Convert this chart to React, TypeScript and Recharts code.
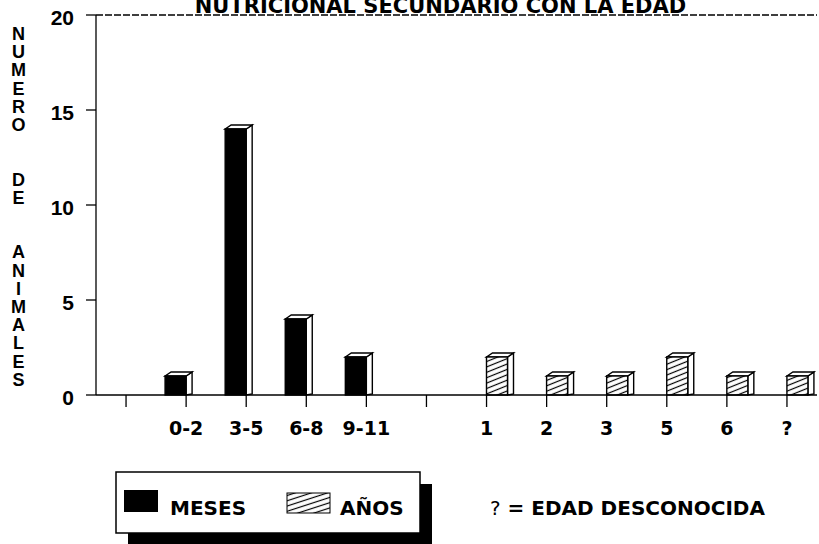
import React from 'react';
import { BarChart, Bar, XAxis, YAxis, ReferenceLine, Legend } from 'recharts';

const categories = ['', '0-2', '3-5', '6-8', '9-11', ' ', '1', '2', '3', '5', '6', '?'];
const meses: (number | null)[] = [null, 1, 14, 4, 2, null, null, null, null, null, null, null];
const anos: (number | null)[] = [null, null, null, null, null, null, 2, 1, 1, 2, 1, 1];
const yTicks = [0, 5, 10, 15, 20];
const title = 'NUTRICIONAL SECUNDARIO CON LA EDAD';
const yLabel = 'NUMERO  DE  ANIMALES';
const seriesNames = { meses: 'MESES', anos: 'AÑOS' };
const footnoteMark = '?';
const footnoteText = ' = EDAD DESCONOCIDA';

const data = categories.map((c, i) => ({ cat: c, meses: meses[i], anos: anos[i] }));

const FONT = '"DejaVu Sans", Arial, sans-serif';
const ARIAL = '"Liberation Sans", Arial, Helvetica, sans-serif';

const HatchDefs = ({ id, angle }: { id: string; angle: number }) => (
  <defs>
    <pattern id={id} patternUnits="userSpaceOnUse" width="8" height="5" patternTransform={`rotate(${angle})`}>
      <rect width="8" height="5" fill="#fff" />
      <line x1="0" y1="2.5" x2="8" y2="2.5" stroke="#000" strokeWidth="1.2" />
    </pattern>
  </defs>
);

const Bar3D = (props: any) => {
  const { x, y, width, height, hatched } = props;
  if (height == null || height <= 0) return null;
  const dx = 6;
  const dy = 4;
  const base = y + height;
  return (
    <g>
      {hatched ? <HatchDefs id="hatchBar" angle={-22} /> : null}
      <polygon
        points={`${x + width},${y} ${x + width + dx},${y - dy} ${x + width + dx},${base - 1} ${x + width},${base}`}
        fill="#fff"
        stroke="#000"
        strokeWidth={1.4}
      />
      <polygon
        points={`${x},${y} ${x + dx},${y - dy} ${x + width + dx},${y - dy} ${x + width},${y}`}
        fill="#fff"
        stroke="#000"
        strokeWidth={1.4}
      />
      <rect
        x={x}
        y={y}
        width={width}
        height={height}
        fill={hatched ? 'url(#hatchBar)' : '#000'}
        stroke="#000"
        strokeWidth={1.4}
      />
    </g>
  );
};

const XTick = (props: any) => {
  const { x, y, payload } = props;
  return (
    <text x={x} y={y} dy={18} textAnchor="middle" fontFamily={FONT} fontWeight="bold" fontSize={19} fill="#000">
      {payload.value}
    </text>
  );
};

const YTick = (props: any) => {
  const { x, y, payload } = props;
  return (
    <text x={x} y={y} dy={10} textAnchor="end" fontFamily={ARIAL} fontWeight="bold" fontSize={21} fill="#000">
      {payload.value}
    </text>
  );
};

const YLabel = (props: any) => {
  const vb = props.viewBox || { x: 0 };
  const cx = (vb.x || 0) + 18.5;
  const top = 27;
  const pitch = 18.2;
  const chars = yLabel.split('');
  return (
    <text textAnchor="middle" fontFamily={ARIAL} fontWeight="bold" fontSize={18} fill="#000">
      {chars.map((ch, i) =>
        ch === ' ' ? null : (
          <tspan key={i} x={cx} y={top + i * pitch + 13}>
            {ch}
          </tspan>
        )
      )}
    </text>
  );
};

const TitleLabel = (props: any) => {
  const vb = props.viewBox || { x: 0, width: 0 };
  return (
    <text
      x={vb.x + vb.width / 2 - 16}
      y={13}
      textAnchor="middle"
      fontFamily={FONT}
      fontWeight="bold"
      fontSize={21}
      fill="#000"
    >
      {title}
    </text>
  );
};

const LegendContent = (props: any) => {
  const payload = props.payload || [];
  const m = payload.find((p: any) => p.dataKey === 'meses');
  const a = payload.find((p: any) => p.dataKey === 'anos');
  return (
    <svg width={819} height={84} style={{ display: 'block' }}>
      <HatchDefs id="hatchLegend" angle={-18} />
      <rect x={128} y={24} width={304} height={61} fill="#000" />
      <rect x={116} y={12} width={304} height={61} fill="#fff" stroke="#000" strokeWidth={1.5} />
      <rect x={124} y={30} width={34} height={22} fill="#000" />
      <text x={170} y={55} fontFamily={FONT} fontWeight="bold" fontSize={20} fill="#000">
        {m ? m.value : ''}
      </text>
      <rect x={287} y={33} width={43} height={20} fill="url(#hatchLegend)" stroke="#000" strokeWidth={1} />
      <text x={340} y={55} fontFamily={FONT} fontWeight="bold" fontSize={20} fill="#000">
        {a ? a.value : ''}
      </text>
      <text x={490} y={55} fontFamily={FONT} fontWeight="bold" fontSize={20} fill="#000">
        <tspan fontWeight="normal">{footnoteMark}</tspan>
        {footnoteText}
      </text>
    </svg>
  );
};

export default function App() {
  return (
    <div style={{ position: 'absolute', left: 0, top: 0, width: 819, height: 544, background: '#fff', fontFamily: FONT }}>
      <BarChart
        width={819}
        height={544}
        data={data}
        margin={{ top: 15, right: 2, left: 0, bottom: 0 }}
        barGap={0}
        barSize={21}
      >
        <XAxis
          dataKey="cat"
          height={149}
          interval={0}
          tickSize={12}
          tickMargin={10}
          axisLine={{ stroke: '#000', strokeWidth: 1.3 }}
          tickLine={{ stroke: '#000', strokeWidth: 1.3 }}
          tick={<XTick />}
        />
        <YAxis
          width={96}
          domain={[0, 20]}
          ticks={yTicks}
          tickSize={10}
          tickMargin={12}
          axisLine={{ stroke: '#000', strokeWidth: 1.3 }}
          tickLine={{ stroke: '#000', strokeWidth: 1.3 }}
          tick={<YTick />}
          label={<YLabel />}
        />
        <ReferenceLine y={20} stroke="#000" strokeWidth={1.3} strokeDasharray="7 2" label={<TitleLabel />} />
        <Legend
          layout="horizontal"
          verticalAlign="middle"
          content={<LegendContent />}
          wrapperStyle={{ position: 'absolute', left: 0, top: 460, width: 819, height: 84 }}
        />
        <Bar dataKey="meses" name={seriesNames.meses} fill="#000" isAnimationActive={false} shape={<Bar3D hatched={false} />} />
        <Bar dataKey="anos" name={seriesNames.anos} fill="#fff" isAnimationActive={false} shape={<Bar3D hatched={true} />} />
      </BarChart>
    </div>
  );
}
